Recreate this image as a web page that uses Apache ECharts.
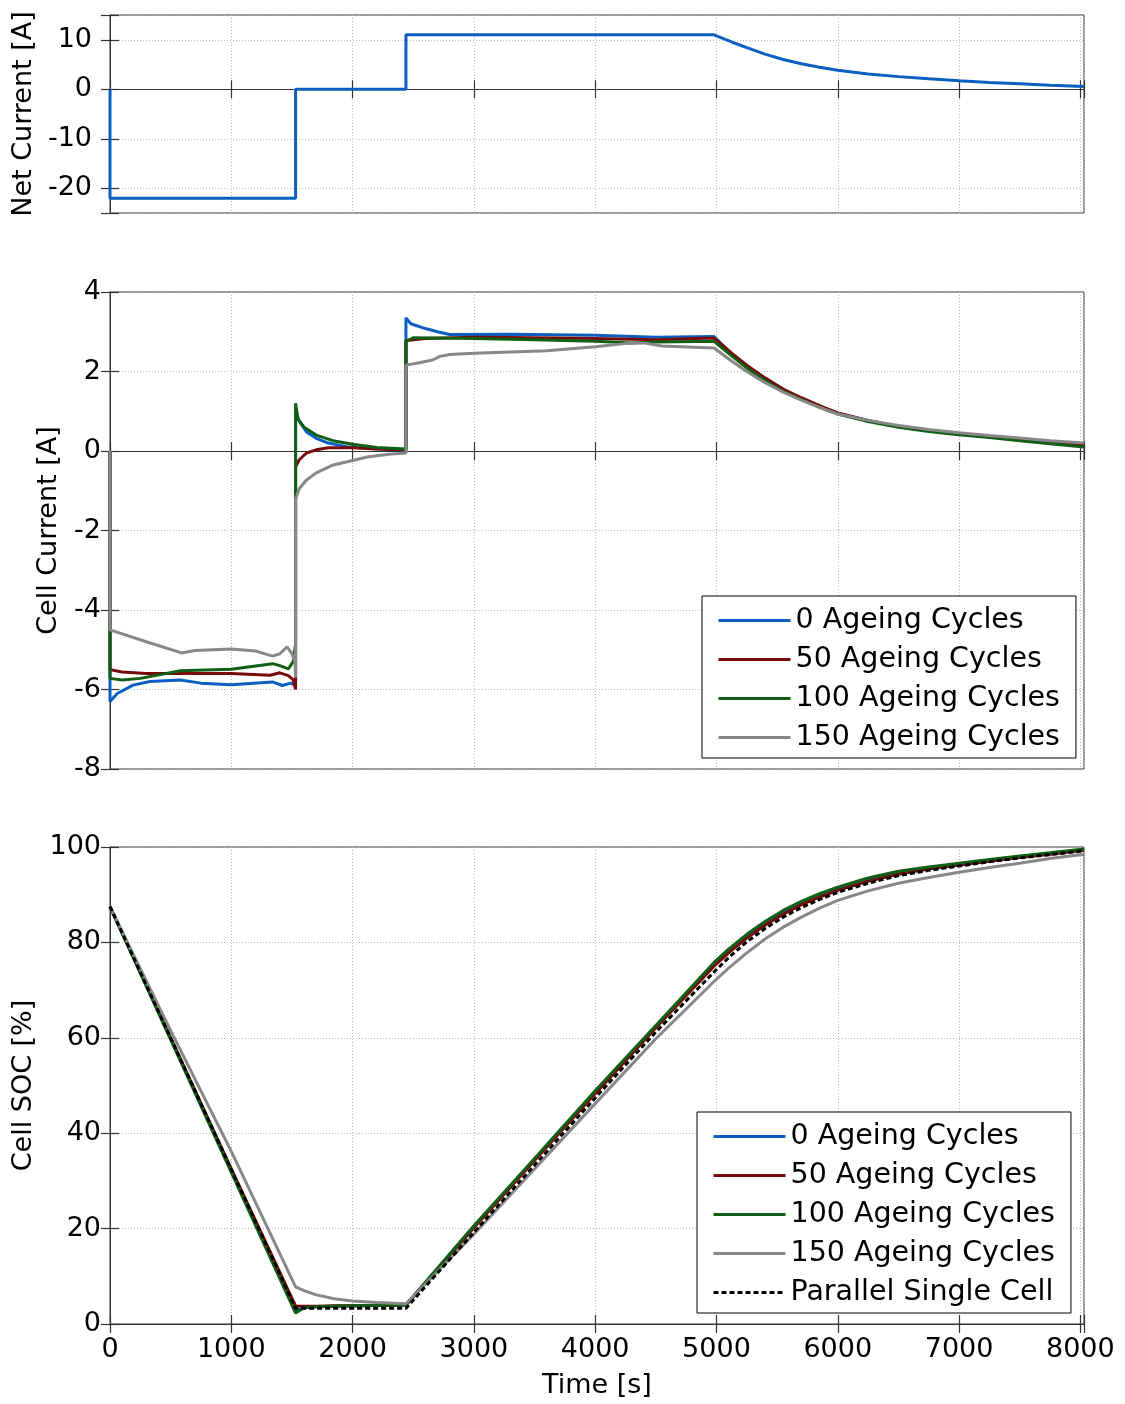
<!DOCTYPE html>
<html>
<head>
<meta charset="utf-8">
<script src="https://cdn.jsdelivr.net/npm/echarts@6/dist/echarts.min.js"></script>
<style>
html,body{margin:0;padding:0;background:#fff;}
#chart{width:1125px;height:1404px;}
</style>
</head>
<body>
<div id="chart"></div>
<script>
// ---------------- data ----------------
const SERIES_NAMES = ['0 Ageing Cycles', '50 Ageing Cycles', '100 Ageing Cycles', '150 Ageing Cycles'];
const SINGLE_NAME = 'Parallel Single Cell';

const X_TICKS = [0, 1000, 2000, 3000, 4000, 5000, 6000, 7000, 8000];

// Net current [time s, current A]
const netCurrent = [[0,0],[0,-22],[1530,-22],[1530,0],[2440,0],[2440,11],[4980,11],[5130,9.5],[5250,8.4],[5400,7.1],[5550,6.0],[5700,5.15],[5850,4.45],[6000,3.85],[6250,3.1],[6500,2.55],[6750,2.1],[7000,1.7],[7250,1.38],[7500,1.1],[7750,0.82],[8030,0.55]];

// Cell currents [time s, current A]
const cell0 = [[0,0],[0,-6.3],[60,-6.1],[190,-5.89],[330,-5.8],[580,-5.76],[750,-5.84],[1000,-5.88],[1340,-5.81],[1420,-5.9],[1490,-5.84],[1530,-5.9],[1530,1.0],[1560,0.75],[1620,0.48],[1700,0.32],[1800,0.2],[1950,0.11],[2150,0.06],[2440,0.02],[2440,3.35],[2480,3.2],[2600,3.08],[2700,3.0],[2800,2.93],[3300,2.94],[4000,2.91],[4500,2.86],[4980,2.88],[5130,2.42],[5250,2.12],[5400,1.8],[5550,1.53],[5700,1.31],[5850,1.12],[6000,0.95],[6250,0.76],[6500,0.62],[6750,0.52],[7000,0.43],[7250,0.36],[7500,0.29],[7750,0.22],[8030,0.15]];
const cell50 = [[0,0],[0,-5.5],[100,-5.56],[300,-5.6],[600,-5.6],[1000,-5.6],[1320,-5.64],[1400,-5.58],[1470,-5.65],[1510,-5.75],[1530,-6.0],[1530,-0.4],[1560,-0.22],[1620,-0.05],[1700,0.03],[1800,0.08],[2000,0.08],[2200,0.05],[2440,0.03],[2440,2.78],[2600,2.83],[3000,2.86],[3500,2.85],[4000,2.83],[4500,2.8],[4980,2.84],[5130,2.45],[5250,2.16],[5400,1.84],[5550,1.56],[5700,1.34],[5850,1.14],[6000,0.96],[6250,0.77],[6500,0.62],[6750,0.52],[7000,0.43],[7250,0.36],[7500,0.29],[7750,0.22],[8030,0.15]];
const cell100 = [[0,0],[0,-5.72],[100,-5.76],[250,-5.72],[580,-5.53],[1000,-5.49],[1340,-5.35],[1400,-5.4],[1470,-5.48],[1510,-5.3],[1530,-4.85],[1530,1.2],[1550,0.8],[1600,0.6],[1700,0.4],[1850,0.25],[2000,0.17],[2200,0.09],[2440,0.05],[2440,2.75],[2500,2.85],[3000,2.83],[3500,2.8],[4000,2.76],[4300,2.72],[4500,2.74],[4980,2.76],[5130,2.38],[5250,2.09],[5400,1.77],[5550,1.5],[5700,1.29],[5850,1.1],[6000,0.93],[6250,0.74],[6500,0.6],[6750,0.49],[7000,0.41],[7250,0.34],[7500,0.26],[7750,0.18],[8030,0.1]];
const cell150 = [[0,0],[0,-4.5],[300,-4.8],[590,-5.08],[700,-5.02],[1000,-4.98],[1200,-5.03],[1340,-5.16],[1400,-5.1],[1460,-4.93],[1500,-5.1],[1525,-5.3],[1530,-5.7],[1530,-1.2],[1560,-0.95],[1620,-0.73],[1700,-0.55],[1840,-0.35],[2000,-0.24],[2120,-0.15],[2300,-0.08],[2440,-0.05],[2440,2.16],[2550,2.22],[2660,2.29],[2720,2.38],[2800,2.43],[3000,2.46],[3600,2.52],[4000,2.62],[4300,2.72],[4400,2.72],[4550,2.64],[4980,2.59],[5130,2.25],[5250,2.0],[5400,1.72],[5550,1.48],[5700,1.28],[5850,1.1],[6000,0.93],[6250,0.77],[6500,0.64],[6750,0.54],[7000,0.46],[7250,0.39],[7500,0.33],[7750,0.26],[8030,0.2]];

// Cell SOC [%] at shared time points
const socTime   = [0, 500, 1000, 1530, 1600, 1700, 1850, 2000, 2200, 2440, 3000, 3500, 4000, 4500, 4980, 5100, 5250, 5400, 5550, 5700, 5850, 6000, 6250, 6500, 6750, 7000, 7250, 7500, 7750, 8030];
const soc0      = [87.5, 59.9, 32.3, 2.8, 3.5, 3.6, 3.7, 3.8, 3.9, 4.0, 20.4, 34.5, 48.6, 62.4, 75.3, 78.1, 81.2, 83.9, 86.2, 88.1, 89.7, 91.1, 93.0, 94.5, 95.5, 96.3, 97.1, 97.9, 98.6, 99.4];
const soc50     = [87.5, 60.0, 32.5, 3.8, 3.7, 3.7, 3.8, 3.8, 3.9, 4.0, 20.2, 34.3, 48.3, 62.1, 75.0, 77.8, 80.9, 83.6, 85.9, 87.9, 89.5, 90.9, 92.8, 94.3, 95.4, 96.2, 97.0, 97.8, 98.5, 99.3];
const soc100    = [87.5, 59.6, 31.8, 2.3, 3.4, 3.6, 3.7, 3.8, 3.9, 4.0, 20.6, 34.7, 48.9, 62.6, 75.8, 78.6, 81.7, 84.4, 86.7, 88.6, 90.2, 91.6, 93.5, 94.9, 95.8, 96.6, 97.4, 98.1, 98.8, 99.6];
const soc150    = [87.5, 61.5, 36.2, 7.8, 7.0, 6.1, 5.3, 4.8, 4.5, 4.25, 18.8, 32.5, 46.2, 59.8, 71.8, 74.6, 77.8, 80.7, 83.2, 85.3, 87.2, 88.8, 90.8, 92.4, 93.6, 94.7, 95.7, 96.6, 97.6, 98.5];
const socSingle = [87.5, 60.0, 32.4, 3.3, 3.3, 3.3, 3.3, 3.3, 3.3, 3.3, 19.2, 33.3, 47.4, 61.2, 73.8, 76.8, 80.1, 82.9, 85.3, 87.3, 89.0, 90.5, 92.4, 94.0, 95.1, 96.0, 96.9, 97.7, 98.4, 99.2];

// ---------------- styling ----------------
const FONT = 'DejaVu Sans';
const COLORS = ['#0b5fc0', '#780a0a', '#0f5f14', '#888888'];
const X_MIN = 0, X_MAX = 8030;
const LW = 3;

function pair(t, v) { return t.map((x, i) => [x, v[i]]); }

const gridCommon = { left: 110, right: 41, show: true, borderColor: '#333', borderWidth: 1, backgroundColor: '#fff' };
const grids = [
  Object.assign({ top: 15, height: 198 }, gridCommon),
  Object.assign({ top: 292, height: 477 }, gridCommon),
  Object.assign({ top: 847, height: 477 }, gridCommon)
];

const splitLineStyle = { show: true, lineStyle: { color: '#b8b8b8', width: 1, type: [1, 2] } };
const tickStyle = { show: true, inside: true, length: 9, lineStyle: { color: '#333', width: 1.2 } };
const axisLineStyle = { show: true, lineStyle: { color: '#333', width: 1 } };
const labelText = { color: '#000', fontFamily: FONT, fontSize: 27 };

const xAxes = [], yAxes = [];
for (let g = 0; g < 3; g++) {
  xAxes.push({
    type: 'value', gridIndex: g, position: 'bottom', min: X_MIN, max: X_MAX, interval: 1000,
    axisLine: axisLineStyle, axisTick: tickStyle, splitLine: splitLineStyle,
    axisLabel: Object.assign({
      show: g === 2, margin: 12, showMaxLabel: true,
      formatter: v => (X_TICKS.indexOf(v) >= 0 ? String(v) : '')
    }, labelText),
    name: g === 2 ? 'Time [s]' : '', nameLocation: 'middle', nameGap: 48,
    nameTextStyle: labelText
  });
  xAxes.push({
    type: 'value', gridIndex: g, position: 'top', min: X_MIN, max: X_MAX, interval: 1000,
    axisLine: axisLineStyle, axisTick: tickStyle, splitLine: { show: false }, axisLabel: { show: false }
  });
}

const yDefs = [
  { min: -25, max: 15, splitNumber: 4, name: 'Net Current [A]', nameGap: 68, margin: 18, ticks: [-20, -10, 0, 10] },
  { min: -8, max: 4, interval: 2, name: 'Cell Current [A]', nameGap: 48, margin: 9, ticks: [-8, -6, -4, -2, 0, 2, 4] },
  { min: 0, max: 100, interval: 20, name: 'Cell SOC [%]', nameGap: 73, margin: 9, ticks: [0, 20, 40, 60, 80, 100] }
];
yDefs.forEach((d, g) => {
  const base = { type: 'value', gridIndex: g, min: d.min, max: d.max };
  if (d.interval) base.interval = d.interval; else base.splitNumber = d.splitNumber;
  yAxes.push(Object.assign({}, base, {
    position: 'left', axisLine: axisLineStyle, axisTick: tickStyle, splitLine: splitLineStyle,
    axisLabel: Object.assign({ margin: d.margin, showMinLabel: true, showMaxLabel: true,
      formatter: v => (d.ticks.indexOf(v) >= 0 ? String(v) : '') }, labelText),
    name: d.name, nameLocation: 'middle', nameGap: d.nameGap, nameTextStyle: labelText
  }));
  yAxes.push(Object.assign({}, base, {
    position: 'right', axisLine: axisLineStyle, axisTick: tickStyle, splitLine: { show: false }, axisLabel: { show: false }
  }));
});

function lineSeries(name, data, color, xi, yi, extra) {
  return Object.assign({
    name, type: 'line', data, xAxisIndex: xi, yAxisIndex: yi,
    showSymbol: false, symbol: 'none', smooth: false, animation: false,
    lineStyle: { color, width: LW }, itemStyle: { color }, z: 3
  }, extra || {});
}

const cellSets = [cell0, cell50, cell100, cell150];
const socSets = [soc0, soc50, soc100, soc150];

const series = [];
series.push(lineSeries('Net Current', netCurrent, COLORS[0], 0, 0));
cellSets.forEach((d, i) => series.push(lineSeries(SERIES_NAMES[i], d, COLORS[i], 2, 2)));
socSets.forEach((d, i) => series.push(lineSeries(SERIES_NAMES[i], pair(socTime, d), COLORS[i], 4, 4)));
series.push(lineSeries(SINGLE_NAME, pair(socTime, socSingle), '#000', 4, 4,
  { lineStyle: { color: '#000', width: LW, type: [5, 3] }, z: 4 }));

const legendCommon = {
  orient: 'vertical', selectedMode: false, backgroundColor: '#fff',
  borderColor: '#000', borderWidth: 1, padding: [8, 16, 4, 15],
  itemWidth: 72, itemHeight: 14, itemGap: 6,
  itemStyle: { opacity: 0, borderWidth: 0 },
  lineStyle: { width: 3 },
  textStyle: { color: '#000', fontFamily: FONT, fontSize: 28.5, lineHeight: 33 }
};
const legends = [
  Object.assign({ left: 702, top: 596, data: SERIES_NAMES.slice() }, legendCommon),
  Object.assign({ left: 697, top: 1112, data: SERIES_NAMES.concat([SINGLE_NAME]) }, legendCommon)
];

const chart = echarts.init(document.getElementById('chart'), null, { renderer: 'canvas' });
chart.setOption({
  backgroundColor: '#fff',
  animation: false,
  grid: grids,
  xAxis: xAxes,
  yAxis: yAxes,
  legend: legends,
  series: series
});
</script>
</body>
</html>
